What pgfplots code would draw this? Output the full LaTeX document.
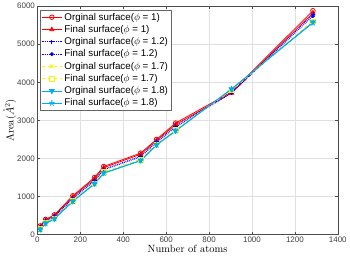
\documentclass[border=0pt]{standalone}
\usepackage{pgfplots}
\pgfplotsset{compat=1.18}
\usepackage{fontspec}
\newfontfamily\helv{Liberation Sans}
\begin{document}
\begin{tikzpicture}
\begin{axis}[
  scale only axis, width=301pt, height=229pt,
  xmin=0, xmax=1400, ymin=0, ymax=6000,
  xtick={0,200,...,1400}, ytick={0,1000,...,6000},
  /pgf/number format/1000 sep={},
  /pgf/number format/assume math mode=true,
  ticklabel style={font=\helv\fontsize{8}{9}\selectfont, text=black!75},
  xticklabel style={yshift=1pt}, yticklabel style={xshift=1pt},
  tick align=inside, tick style={black!70, thin}, major tick length=3pt,
  axis line style={black!70, thin},
  grid=major, grid style={black!12, thin},
  xlabel={Number of atoms}, ylabel={Area($\mathring{A}^2$)},
  label style={font=\fontsize{10.5}{12}\selectfont},
  xlabel style={yshift=5pt}, ylabel style={yshift=-6pt},
  legend style={at={(0.008,0.985)}, anchor=north west, font=\helv\fontsize{9.8}{11}\selectfont,
    draw=black!60, fill=white, inner sep=1.2pt, row sep=-0.3pt},
  legend cell align=left,
  legend image code/.code={\draw[mark repeat=2,mark phase=2,#1] plot coordinates {(0cm,0cm) (0.36cm,0cm) (0.72cm,0cm)};},
  every axis plot/.append style={line width=0.8pt, mark size=2.3pt},
]
\addplot[red, mark=o] coordinates {(13,230)(38,400)(79,520)(165,1020)(266,1500)(309,1790)(481,2140)(555,2500)(644,2930)(905,3750)(1284,5880)};
\addlegendentry{Orginal surface($\phi$ = 1)}
\addplot[red, mark=triangle*] coordinates {(13,210)(38,380)(79,500)(165,990)(266,1470)(309,1760)(481,2110)(555,2470)(644,2890)(905,3720)(1284,5820)};
\addlegendentry{Final surface($\phi$ = 1)}
\addplot[blue, densely dotted, mark=+, mark options={solid}] coordinates {(13,200)(38,370)(79,480)(165,960)(266,1430)(309,1720)(481,2060)(555,2440)(644,2850)(905,3730)(1284,5780)};
\addlegendentry{Orginal surface($\phi$ = 1.2)}
\addplot[blue, densely dotted, mark=*, mark size=1.6pt, mark options={solid}] coordinates {(13,190)(38,350)(79,470)(165,940)(266,1410)(309,1700)(481,2040)(555,2420)(644,2820)(905,3720)(1284,5740)};
\addlegendentry{Final surface($\phi$ = 1.2)}
\addplot[yellow, dashed, mark=x, mark options={solid}] coordinates {(13,160)(38,330)(79,440)(165,900)(266,1360)(309,1650)(481,1980)(555,2380)(644,2760)(905,3800)(1284,5620)};
\addlegendentry{Orginal surface($\phi$ = 1.7)}
\addplot[yellow, dashed, mark=square, mark options={solid}] coordinates {(13,150)(38,320)(79,430)(165,890)(266,1350)(309,1640)(481,1970)(555,2370)(644,2750)(905,3790)(1284,5600)};
\addlegendentry{Final surface($\phi$ = 1.7)}
\addplot[cyan, mark=triangle*, mark options={rotate=180}, mark size=2.7pt] coordinates {(13,140)(38,300)(79,420)(165,880)(266,1340)(309,1620)(481,1950)(555,2360)(644,2730)(905,3820)(1284,5580)};
\addlegendentry{Orginal surface($\phi$ = 1.8)}
\addplot[cyan, mark=star, mark size=3pt] coordinates {(13,130)(38,290)(79,410)(165,870)(266,1330)(309,1610)(481,1940)(555,2350)(644,2720)(905,3830)(1284,5560)};
\addlegendentry{Final surface($\phi$ = 1.8)}
\end{axis}
\end{tikzpicture}
\end{document}
